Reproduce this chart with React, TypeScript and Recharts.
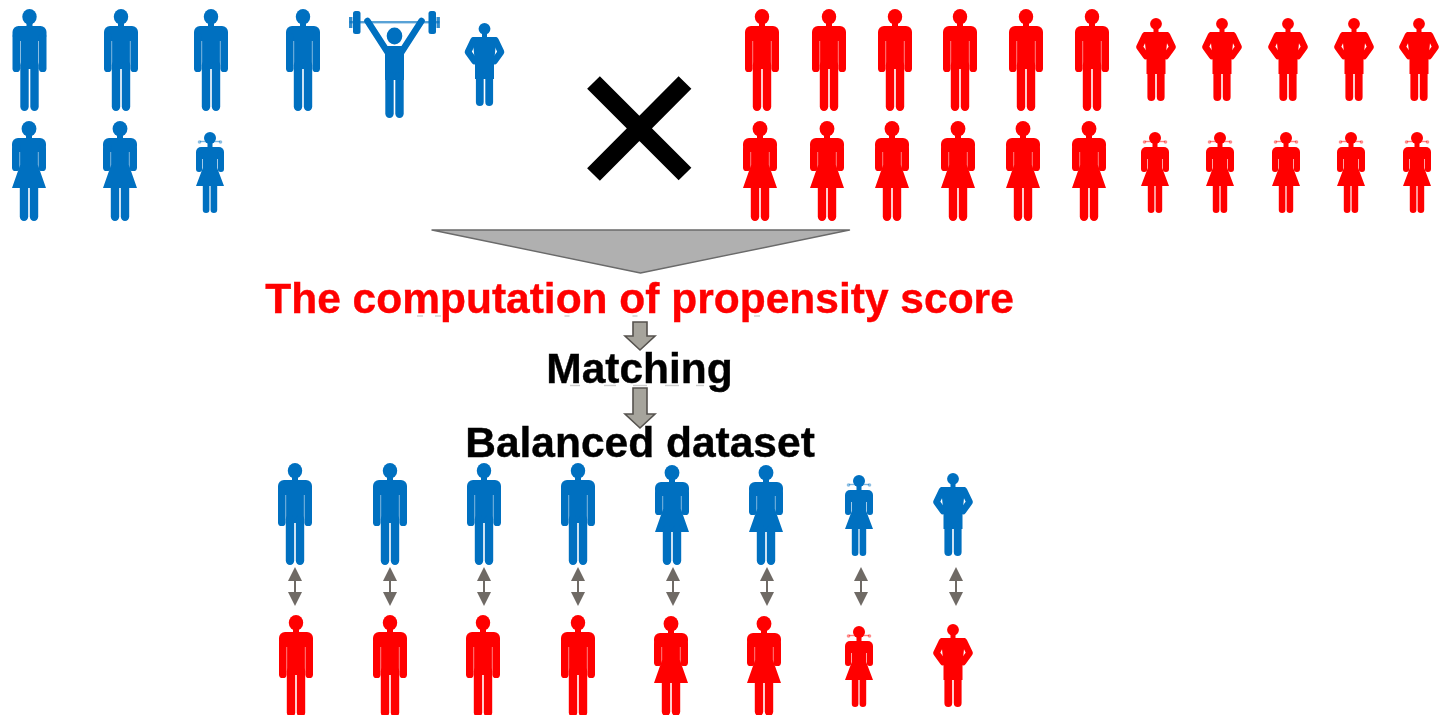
import React from "react";
import { ScatterChart, Scatter, XAxis, YAxis } from "recharts";

const BLUE = "#0070c0";
const RED = "#ff0000";

// Figure anchor: horizontal centre / top of head.
const topBlueMenX = [29.5, 121, 211, 303];
const topBlueMenY = [9, 9, 9, 9];
const blueLifterX = [394.5];
const blueLifterY = [28];
const topBlueHipX = [484.5];
const topBlueHipY = [23];
const topBlueWomenX = [29, 120];
const topBlueWomenY = [121, 121];
const topBlueGirlX = [210];
const topBlueGirlY = [132];

const topRedMenX = [762, 829, 895, 960, 1026, 1092];
const topRedMenY = [9, 9, 9, 9, 9, 9];
const topRedHipX = [1156, 1222, 1288, 1354, 1419];
const topRedHipY = [18, 18, 18, 18, 18];
const topRedWomenX = [760, 827, 892, 958, 1023, 1089];
const topRedWomenY = [121, 121, 121, 121, 121, 121];
const topRedGirlX = [1155, 1220, 1286, 1351, 1417];
const topRedGirlY = [132, 132, 132, 132, 132];

const lowBlueMenX = [295, 390, 484, 578];
const lowBlueMenY = [463, 463, 463, 463];
const lowBlueWomenX = [672, 766];
const lowBlueWomenY = [465, 465];
const lowBlueGirlX = [859];
const lowBlueGirlY = [475];
const lowBlueHipX = [953];
const lowBlueHipY = [473];

const lowRedMenX = [296, 390, 483, 578];
const lowRedMenY = [615, 615, 615, 615];
const lowRedWomenX = [671, 764];
const lowRedWomenY = [616, 616];
const lowRedGirlX = [859];
const lowRedGirlY = [626];
const lowRedHipX = [953];
const lowRedHipY = [624];

const pairArrowX = [295, 390, 484, 578, 673, 767, 861, 956];
const pairArrowY = [567, 567, 567, 567, 567, 567, 567, 567];

const crossX = [640];
const crossY = [128];
const funnelX = [640.5];
const funnelY = [230];
const blockArrowX = [640, 640];
const blockArrowY = [322, 388];
const blockArrowLen = [28, 40];

const residueX = [420, 438, 567, 635, 757, 575, 610, 640, 672, 700];
const residueY = [316, 316, 316, 316, 316, 385.5, 385.5, 385.5, 385.5, 385.5];
const residueLen = [6, 6, 5, 5, 6, 10, 12, 14, 14, 8];

const captions = ["The computation of propensity score", "Matching", "Balanced dataset"];
const captionX = [639.5, 639.5, 640];
const captionY = [313, 383, 456.5];
const captionColor = ["#ff0000", "#000000", "#000000"];

const pts = (xs: number[], ys: number[]) => xs.map((x, i) => ({ x, y: ys[i] }));

const soft = { filter: "blur(0.75px)" };
const leg = (x: number, y: number, w: number, h: number, c: string) => (
  <rect x={x} y={y} width={w} height={h} rx={w / 2} fill={c} />
);

function Man({ cx, cy, c }: any) {
  return (
    <g transform={`translate(${cx},${cy})`} style={soft}>
      <ellipse cx={0} cy={7.8} rx={7.2} ry={7.8} fill={c} />
      <rect x={-3} y={12} width={6} height={8} fill={c} />
      <rect x={-17} y={17} width={34} height={15} rx={6} fill={c} />
      <rect x={-17} y={24} width={7.6} height={39} rx={3.6} fill={c} />
      <rect x={9.4} y={24} width={7.6} height={39} rx={3.6} fill={c} />
      <rect x={-8.9} y={24} width={17.8} height={36} fill={c} />
      {leg(-9.2, 52, 8.4, 50, c)}
      {leg(0.8, 52, 8.4, 50, c)}
    </g>
  );
}

function Woman({ cx, cy, c }: any) {
  return (
    <g transform={`translate(${cx},${cy})`} style={soft}>
      <ellipse cx={0} cy={7.8} rx={7.4} ry={7.8} fill={c} />
      <rect x={-3} y={12} width={6} height={8} fill={c} />
      <rect x={-17} y={17} width={34} height={14} rx={6} fill={c} />
      <rect x={-17} y={24} width={7.6} height={26} rx={3.6} fill={c} />
      <rect x={9.4} y={24} width={7.6} height={26} rx={3.6} fill={c} />
      <path d="M-8.9 24H8.9V44L17 67H-17L-8.9 44Z" fill={c} />
      {leg(-9.2, 60, 8.4, 40, c)}
      {leg(0.8, 60, 8.4, 40, c)}
    </g>
  );
}

function Girl({ cx, cy, c }: any) {
  return (
    <g transform={`translate(${cx},${cy})`} style={soft}>
      <circle cx={0} cy={6} r={6} fill={c} />
      <path d="M-10 9.5H10" stroke={c} strokeWidth={1.4} opacity={0.5} />
      <circle cx={-10.5} cy={10} r={1.8} fill={c} opacity={0.45} />
      <circle cx={10.5} cy={10} r={1.8} fill={c} opacity={0.45} />
      <rect x={-2.5} y={10} width={5} height={7} fill={c} />
      <rect x={-14} y={15} width={28} height={12} rx={5} fill={c} />
      <rect x={-14} y={20} width={6.2} height={20} rx={2.9} fill={c} />
      <rect x={7.8} y={20} width={6.2} height={20} rx={2.9} fill={c} />
      <path d="M-7.2 20H7.2V36L14 54H-14L-7.2 36Z" fill={c} />
      {leg(-7.2, 48, 6.6, 33, c)}
      {leg(0.6, 48, 6.6, 33, c)}
    </g>
  );
}

function Hip({ cx, cy, c }: any) {
  return (
    <g transform={`translate(${cx},${cy})`} style={soft}>
      <circle cx={0} cy={5.8} r={5.9} fill={c} />
      <rect x={-2.5} y={9} width={5} height={7} fill={c} />
      <path d="M-12 14H12L11 25L9.5 40V56H-9.5V40L-11 25Z" fill={c} />
      <path d="M-11 17.5L-16.5 29L-10 38M11 17.5L16.5 29L10 38" fill="none" stroke={c} strokeWidth={6.6} strokeLinejoin="round" strokeLinecap="round" />
      {leg(-8.6, 48, 7.8, 35, c)}
      {leg(0.8, 48, 7.8, 35, c)}
    </g>
  );
}

function Lifter({ cx, cy, c }: any) {
  return (
    <g transform={`translate(${cx},${cy})`} style={soft}>
      <rect x={-45} y={-7} width={90} height={2.4} fill={c} opacity={0.65} />
      <rect x={-41.5} y={-17} width={7.5} height={23} rx={2.5} fill={c} />
      <rect x={34} y={-17} width={7.5} height={23} rx={2.5} fill={c} />
      <rect x={-45.5} y={-11} width={3.4} height={11} fill={c} opacity={0.8} />
      <rect x={42} y={-11} width={3.4} height={11} fill={c} opacity={0.8} />
      <ellipse cx={0} cy={8} rx={7.8} ry={8.5} fill={c} />
      <path d="M-27 -7L-7 24M27 -7L7 24" stroke={c} strokeWidth={6.6} strokeLinecap="round" fill="none" />
      <rect x={-9.5} y={18} width={19} height={34} fill={c} />
      {leg(-9.2, 44, 8.4, 46, c)}
      {leg(0.8, 44, 8.4, 46, c)}
    </g>
  );
}

function PairArrow({ cx, cy }: any) {
  const c = "#6f6a65";
  return (
    <g transform={`translate(${cx},${cy})`} style={{ filter: "blur(0.7px)" }}>
      <path d="M0 0L7 14H-7Z" fill={c} />
      <path d="M0 39L7 25H-7Z" fill={c} />
      <rect x={-1} y={13} width={2} height={13} fill={c} />
    </g>
  );
}

function Cross({ cx, cy }: any) {
  return (
    <g transform={`translate(${cx},${cy})`} style={soft}>
      <path d="M-46.5 -45.5L45 46M45 -45.5L-46.5 46.5" stroke="#000" strokeWidth={18} fill="none" strokeLinejoin="round" />
    </g>
  );
}

function Funnel({ cx, cy }: any) {
  return (
    <path
      transform={`translate(${cx},${cy})`}
      d="M-208.5 0H209L0 43Z"
      fill="#b0b0b0"
      stroke="#6a6a6a"
      strokeWidth={1.4}
      strokeLinejoin="round"
      style={{ filter: "blur(0.5px)" }}
    />
  );
}

function BlockArrow({ cx, cy, payload }: any) {
  const L = payload.len;
  const s = L - 14;
  return (
    <path
      transform={`translate(${cx},${cy})`}
      d={`M-7 0H7V${s}H15L0 ${L}L-15 ${s}H-7Z`}
      fill="#a6a49c"
      stroke="#55524e"
      strokeWidth={1.6}
      style={{ filter: "blur(0.5px)" }}
    />
  );
}

function Residue({ cx, cy, payload }: any) {
  return (
    <rect
      x={cx - payload.len / 2}
      y={cy - 0.7}
      width={payload.len}
      height={1.4}
      fill="#555"
      opacity={0.3}
      style={{ filter: "blur(0.6px)" }}
    />
  );
}

function Caption({ cx, cy, payload }: any) {
  return (
    <text
      x={cx}
      y={cy}
      textAnchor="middle"
      fontFamily="'Liberation Sans', Arial, sans-serif"
      fontWeight={700}
      fontSize={42.5}
      fill={payload.color}
      stroke={payload.color}
      strokeWidth={0.4}
      style={{ filter: "blur(0.4px)" }}
    >
      {payload.label}
    </text>
  );
}

const figure = (F: any, c: string) => (p: any) => <F cx={p.cx} cy={p.cy} c={c} />;

const captionData = captions.map((label, i) => ({ x: captionX[i], y: captionY[i], label, color: captionColor[i] }));
const blockData = blockArrowX.map((x, i) => ({ x, y: blockArrowY[i], len: blockArrowLen[i] }));
const residueData = residueX.map((x, i) => ({ x, y: residueY[i], len: residueLen[i] }));

const series: [string, any[], any][] = [
  ["Treated men", pts(topBlueMenX, topBlueMenY), figure(Man, BLUE)],
  ["Treated lifter", pts(blueLifterX, blueLifterY), figure(Lifter, BLUE)],
  ["Treated boy", pts(topBlueHipX, topBlueHipY), figure(Hip, BLUE)],
  ["Treated women", pts(topBlueWomenX, topBlueWomenY), figure(Woman, BLUE)],
  ["Treated girl", pts(topBlueGirlX, topBlueGirlY), figure(Girl, BLUE)],
  ["Control men", pts(topRedMenX, topRedMenY), figure(Man, RED)],
  ["Control boys", pts(topRedHipX, topRedHipY), figure(Hip, RED)],
  ["Control women", pts(topRedWomenX, topRedWomenY), figure(Woman, RED)],
  ["Control girls", pts(topRedGirlX, topRedGirlY), figure(Girl, RED)],
  ["Matched treated men", pts(lowBlueMenX, lowBlueMenY), figure(Man, BLUE)],
  ["Matched treated women", pts(lowBlueWomenX, lowBlueWomenY), figure(Woman, BLUE)],
  ["Matched treated girl", pts(lowBlueGirlX, lowBlueGirlY), figure(Girl, BLUE)],
  ["Matched treated boy", pts(lowBlueHipX, lowBlueHipY), figure(Hip, BLUE)],
  ["Matched control men", pts(lowRedMenX, lowRedMenY), figure(Man, RED)],
  ["Matched control women", pts(lowRedWomenX, lowRedWomenY), figure(Woman, RED)],
  ["Matched control girl", pts(lowRedGirlX, lowRedGirlY), figure(Girl, RED)],
  ["Matched control boy", pts(lowRedHipX, lowRedHipY), figure(Hip, RED)],
  ["Pair arrows", pts(pairArrowX, pairArrowY), (p: any) => <PairArrow cx={p.cx} cy={p.cy} />],
  ["Cross", pts(crossX, crossY), (p: any) => <Cross cx={p.cx} cy={p.cy} />],
  ["Funnel", pts(funnelX, funnelY), (p: any) => <Funnel cx={p.cx} cy={p.cy} />],
  ["Step arrows", blockData, (p: any) => <BlockArrow cx={p.cx} cy={p.cy} payload={p.payload} />],
  ["Residue", residueData, (p: any) => <Residue cx={p.cx} cy={p.cy} payload={p.payload} />],
  ["Captions", captionData, (p: any) => <Caption cx={p.cx} cy={p.cy} payload={p.payload} />],
];

export default function App() {
  return (
    <div style={{ position: "absolute", left: 0, top: 0, width: 1439, height: 715, background: "#fff" }}>
      <ScatterChart width={1439} height={715} margin={{ top: 0, right: 0, bottom: 0, left: 0 }}>
        <XAxis type="number" dataKey="x" domain={[0, 1439]} hide />
        <YAxis type="number" dataKey="y" domain={[0, 715]} reversed hide />
        {series.map(([name, data, shape]) => (
          <Scatter key={name} name={name} data={data} shape={shape} isAnimationActive={false} />
        ))}
      </ScatterChart>
    </div>
  );
}
